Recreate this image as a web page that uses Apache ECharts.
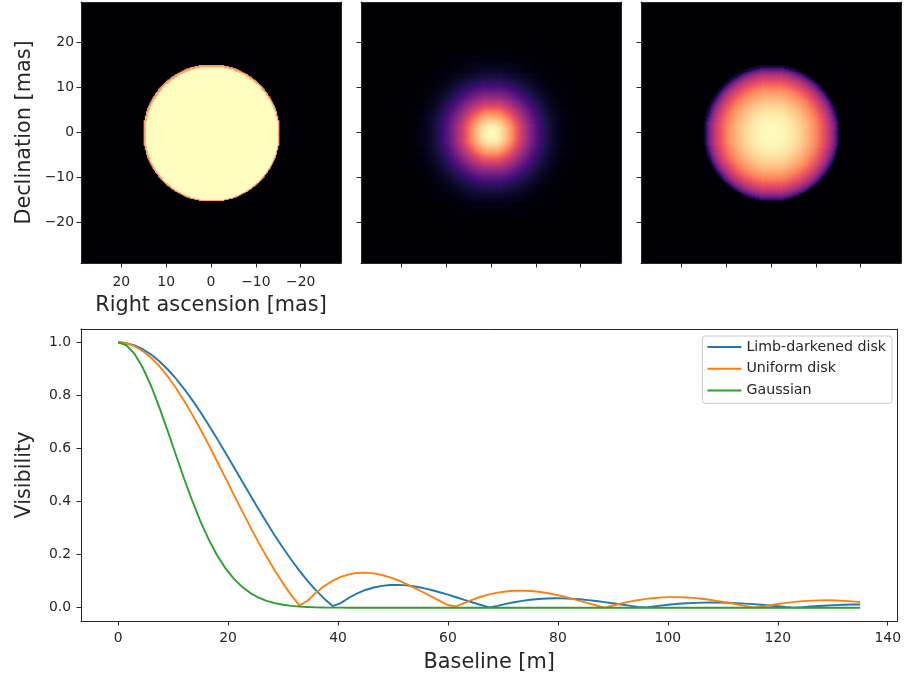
<!DOCTYPE html>
<html>
<head>
<meta charset="utf-8">
<script src="https://cdn.jsdelivr.net/npm/echarts@6/dist/echarts.min.js"></script>
<style>
  html, body { margin: 0; padding: 0; background: #ffffff; }
  #chart { width: 904px; height: 677px; }
</style>
</head>
<body>
<div id="chart"></div>
<script>
// ---- Visibility curves -------------------------------------------------
// Baseline (m) of each sample
const baseline = [
  0, 1.5, 3, 4.5, 6, 7.5, 9, 10.5, 12, 13.5, 15, 16.5, 18, 19.5, 21, 22.5, 24, 25.5, 27, 28.5,
  30, 31.5, 33, 34.5, 36, 37.5, 39, 40.5, 42, 43.5, 45, 46.5, 48, 49.5, 51, 52.5, 54, 55.5, 57, 58.5,
  60, 61.5, 63, 64.5, 66, 67.5, 69, 70.5, 72, 73.5, 75, 76.5, 78, 79.5, 81, 82.5, 84, 85.5, 87, 88.5,
  90, 91.5, 93, 94.5, 96, 97.5, 99, 100.5, 102, 103.5, 105, 106.5, 108, 109.5, 111, 112.5, 114, 115.5, 117, 118.5,
  120, 121.5, 123, 124.5, 126, 127.5, 129, 130.5, 132, 133.5, 135
];

const visLimbDarkened = [
  1.0000, 0.9971, 0.9883, 0.9739, 0.9539, 0.9287, 0.8984, 0.8636, 0.8247, 0.7820,
  0.7361, 0.6876, 0.6370, 0.5849, 0.5319, 0.4785, 0.4253, 0.3729, 0.3218, 0.2724,
  0.2252, 0.1806, 0.1389, 0.1005, 0.0655, 0.0341, 0.0064, 0.0175, 0.0376, 0.0540,
  0.0668, 0.0762, 0.0824, 0.0856, 0.0860, 0.0841, 0.0800, 0.0741, 0.0668, 0.0584,
  0.0492, 0.0394, 0.0295, 0.0197, 0.0102, 0.0012, 0.0071, 0.0144, 0.0208, 0.0260,
  0.0302, 0.0331, 0.0349, 0.0356, 0.0352, 0.0339, 0.0317, 0.0288, 0.0252, 0.0212,
  0.0168, 0.0123, 0.0077, 0.0031, 0.0012, 0.0053, 0.0089, 0.0121, 0.0148, 0.0169,
  0.0184, 0.0193, 0.0196, 0.0193, 0.0185, 0.0172, 0.0155, 0.0134, 0.0110, 0.0085,
  0.0058, 0.0031, 0.0005, 0.0021, 0.0044, 0.0066, 0.0084, 0.0099, 0.0111, 0.0119,
  0.0123
];

const visUniform = [
  1.0000, 0.9963, 0.9852, 0.9669, 0.9417, 0.9099, 0.8719, 0.8285, 0.7801, 0.7275,
  0.6714, 0.6126, 0.5519, 0.4901, 0.4281, 0.3666, 0.3064, 0.2481, 0.1926, 0.1403,
  0.0918, 0.0475, 0.0077, 0.0270, 0.0568, 0.0816, 0.1013, 0.1159, 0.1258, 0.1311,
  0.1322, 0.1296, 0.1233, 0.1142, 0.1026, 0.0892, 0.0742, 0.0584, 0.0421, 0.0259,
  0.0101, 0.0048, 0.0185, 0.0308, 0.0413, 0.0501, 0.0567, 0.0613, 0.0639, 0.0645,
  0.0632, 0.0601, 0.0555, 0.0495, 0.0424, 0.0345, 0.0261, 0.0173, 0.0084, 0.0002,
  0.0084, 0.0161, 0.0228, 0.0284, 0.0332, 0.0366, 0.0389, 0.0399, 0.0398, 0.0385,
  0.0361, 0.0328, 0.0286, 0.0238, 0.0186, 0.0129, 0.0071, 0.0014, 0.0042, 0.0095,
  0.0142, 0.0184, 0.0219, 0.0247, 0.0266, 0.0277, 0.0279, 0.0273, 0.0259, 0.0239,
  0.0212
];

const visGaussian = [
  1.0000, 0.9888, 0.9560, 0.9037, 0.8353, 0.7548, 0.6670, 0.5762, 0.4868, 0.4020,
  0.3247, 0.2564, 0.1979, 0.1494, 0.1103, 0.0796, 0.0561, 0.0387, 0.0261, 0.0172,
  0.0111, 0.0070, 0.0043, 0.0026, 0.0015, 0.0009, 0.0005, 0.0003, 0.0001, 0,
  0, 0, 0, 0, 0, 0, 0, 0, 0, 0,
  0, 0, 0, 0, 0, 0, 0, 0, 0, 0,
  0, 0, 0, 0, 0, 0, 0, 0, 0, 0,
  0, 0, 0, 0, 0, 0, 0, 0, 0, 0,
  0, 0, 0, 0, 0, 0, 0, 0, 0, 0,
  0, 0, 0, 0, 0, 0, 0, 0, 0, 0,
  0
];

const seriesNames = ['Limb-darkened disk', 'Uniform disk', 'Gaussian'];
const seriesColors = ['#1f77b4', '#ff7f0e', '#2ca02c'];

// ---- Sky images ---------------------------------------------------------
// Normalised radial brightness, one entry every 0.25 mas from the centre;
// beyond the last entry the sky is dark (0).
const profileStep = 0.25;

const uniformProfile = [
  1, 1, 1, 1, 1, 1, 1, 1, 1, 1, 1, 1, 1, 1, 1, 1, 1, 1, 1, 1,
  1, 1, 1, 1, 1, 1, 1, 1, 1, 1, 1, 1, 1, 1, 1, 1, 1, 1, 1, 1,
  1, 1, 1, 1, 1, 1, 1, 1, 1, 1, 1, 1, 1, 1, 1, 1, 1, 1, 1, 1,
  0.8
];

const gaussianProfile = [
  1.0000, 0.9992, 0.9968, 0.9927, 0.9871, 0.9799, 0.9712, 0.9609, 0.9493, 0.9363,
  0.9219, 0.9063, 0.8895, 0.8716, 0.8527, 0.8328, 0.8121, 0.7906, 0.7684, 0.7457,
  0.7224, 0.6987, 0.6747, 0.6505, 0.6261, 0.6016, 0.5772, 0.5529, 0.5287, 0.5047,
  0.4811, 0.4578, 0.4350, 0.4126, 0.3907, 0.3694, 0.3487, 0.3286, 0.3092, 0.2904,
  0.2723, 0.2550, 0.2383, 0.2224, 0.2072, 0.1928, 0.1790, 0.1660, 0.1537, 0.1420,
  0.1310, 0.1207, 0.1110, 0.1019, 0.0934, 0.0855, 0.0781, 0.0713, 0.0649, 0.0590,
  0.0536, 0.0486, 0.0439, 0.0397, 0.0358, 0.0322, 0.0290, 0.0260, 0.0233, 0.0209,
  0.0186, 0.0166, 0.0148, 0.0131, 0.0117, 0.0103, 0.0091, 0.0081, 0.0071, 0.0063,
  0.0055, 0.0048, 0.0042, 0.0037, 0.0032
];

const limbDarkenedProfile = [
  1.0000, 0.9999, 0.9994, 0.9987, 0.9978, 0.9965, 0.9950, 0.9932, 0.9911, 0.9887,
  0.9860, 0.9831, 0.9798, 0.9762, 0.9724, 0.9682, 0.9638, 0.9590, 0.9539, 0.9485,
  0.9428, 0.9367, 0.9303, 0.9236, 0.9165, 0.9091, 0.9012, 0.8930, 0.8844, 0.8754,
  0.8660, 0.8562, 0.8459, 0.8352, 0.8239, 0.8122, 0.8000, 0.7872, 0.7739, 0.7599,
  0.7454, 0.7301, 0.7141, 0.6974, 0.6799, 0.6614, 0.6420, 0.6216, 0.6000, 0.5771,
  0.5528, 0.5268, 0.4989, 0.4687, 0.4359, 0.3997, 0.3590, 0.3122, 0.2560, 0.1818,
  0.08
];

// Tick positions
const skyTicks = [20, 10, 0, -10, -20];
const baselineTicks = [0, 20, 40, 60, 80, 100, 120, 140];
const visibilityTicks = [0, 0.2, 0.4, 0.6, 0.8, 1.0];

// magma colormap
const magma = [
  '#000004', '#07061c', '#140e36', '#251255', '#3b0f70', '#51127c', '#641a80',
  '#782281', '#8c2981', '#a1307e', '#b73779', '#cb3e71', '#de4968', '#ec5860',
  '#f7705c', '#fc8961', '#fe9f6d', '#feb77e', '#fecf92', '#fde7a9', '#fcfdbf'
];

const pixelSize = 0.25;    // mas per image cell
const fieldHalf = 29;      // half field of view, mas

// Lit cells of an image; dark sky is the panel's magma(0) backdrop
function buildImage(profile) {
  const cells = [];
  const n = Math.round(2 * fieldHalf / pixelSize);
  for (let j = 0; j < n; j++) {
    const y = -fieldHalf + (j + 0.5) * pixelSize;
    for (let i = 0; i < n; i++) {
      const x = -fieldHalf + (i + 0.5) * pixelSize;
      const k = Math.round(Math.hypot(x, y) / profileStep);
      if (k < profile.length) cells.push([x, y, profile[k]]);
    }
  }
  return cells;
}

function renderCell(params, api) {
  const x = api.value(0), y = api.value(1);
  const h = pixelSize / 2;
  const a = api.coord([x - h, y + h]);
  const b = api.coord([x + h, y - h]);
  return {
    type: 'rect',
    shape: {
      x: Math.min(a[0], b[0]),
      y: Math.min(a[1], b[1]),
      width: Math.abs(b[0] - a[0]) + 1,
      height: Math.abs(b[1] - a[1]) + 1
    },
    style: { fill: api.visual('color') }
  };
}

const FONT = 'DejaVu Sans';
const TEXT = '#262626';
const LINE = '#262626';
const TICK_FONT = 13.9;
const LEGEND_FONT = 14.2;
const NAME_FONT = 20.8;

const minusFmt = v => (v < 0 ? '\u2212' + Math.abs(v) : String(v));

function panelGrid(left, top, width, height, bg) {
  return { left, top, width, height, show: true, backgroundColor: bg, borderWidth: 0 };
}

// Main axis of a panel: ticks, labels and the bottom / left spine
function mainAxis(opts) {
  const ax = {
    type: 'value', gridIndex: opts.grid, min: opts.min, max: opts.max,
    inverse: !!opts.inverse, z: 10,
    axisLine: { show: true, onZero: false, lineStyle: { color: LINE, width: 1 } },
    splitLine: { show: false },
    axisTick: { show: true, inside: false, length: 4.5, customValues: opts.ticks,
                lineStyle: { color: LINE, width: 1 } },
    axisLabel: { show: opts.labels, customValues: opts.ticks, formatter: opts.fmt,
                 margin: opts.margin,
                 fontFamily: FONT, fontSize: TICK_FONT, color: TEXT }
  };
  if (opts.name) {
    ax.name = opts.name;
    ax.nameLocation = 'middle';
    ax.nameGap = opts.nameGap;
    ax.nameTextStyle = { fontFamily: FONT, fontSize: NAME_FONT, color: TEXT };
  }
  return ax;
}

// Opposite spine (top / right) of a panel
function spineAxis(grid, min, max, position) {
  return {
    type: 'value', gridIndex: grid, min, max, position, z: 10,
    axisLine: { show: true, onZero: false, lineStyle: { color: LINE, width: 1 } },
    axisTick: { show: false }, axisLabel: { show: false }, splitLine: { show: false }
  };
}

const xAxes = [];
const yAxes = [];
for (let k = 0; k < 3; k++) {
  const first = k === 0;
  xAxes.push(mainAxis({ grid: k, min: -fieldHalf, max: fieldHalf, inverse: true, ticks: skyTicks,
    labels: first, fmt: minusFmt, margin: 12,
    name: first ? 'Right ascension [mas]' : null, nameGap: 32 }));
  xAxes.push(spineAxis(k, -fieldHalf, fieldHalf, 'top'));
  yAxes.push(mainAxis({ grid: k, min: -fieldHalf, max: fieldHalf, ticks: skyTicks,
    labels: first, fmt: minusFmt, margin: 7,
    name: first ? 'Declination [mas]' : null, nameGap: 46 }));
  yAxes.push(spineAxis(k, -fieldHalf, fieldHalf, 'right'));
}
xAxes.push(mainAxis({ grid: 3, min: -6.75, max: 141.75, ticks: baselineTicks,
  labels: true, fmt: v => String(v), margin: 10, name: 'Baseline [m]', nameGap: 31 }));
xAxes.push(spineAxis(3, -6.75, 141.75, 'top'));
yAxes.push(mainAxis({ grid: 3, min: -0.05, max: 1.05, ticks: visibilityTicks,
  labels: true, fmt: v => v.toFixed(1), margin: 10, name: 'Visibility', nameGap: 46 }));
yAxes.push(spineAxis(3, -0.05, 1.05, 'right'));

const imageSeries = [uniformProfile, gaussianProfile, limbDarkenedProfile].map((p, k) => ({
  type: 'custom',
  xAxisIndex: 2 * k, yAxisIndex: 2 * k,
  renderItem: renderCell,
  data: buildImage(p),
  progressive: 0,
  progressiveThreshold: 1e9,
  clip: true,
  silent: true,
  animation: false
}));

const lineSeries = [visLimbDarkened, visUniform, visGaussian].map((vals, k) => ({
  type: 'line',
  name: seriesNames[k],
  xAxisIndex: 6, yAxisIndex: 6,
  data: baseline.map((b, i) => [b, vals[i]]),
  symbol: 'none',
  color: seriesColors[k],
  lineStyle: { width: 1.9, color: seriesColors[k] },
  emphasis: { disabled: true },
  z: 3 + k
}));

const chart = echarts.init(document.getElementById('chart'), null, { renderer: 'canvas' });
chart.setOption({
  animation: false,
  backgroundColor: '#ffffff',
  grid: [
    panelGrid(81, 2, 260, 261, '#000004'),
    panelGrid(361, 2, 260, 261, '#000004'),
    panelGrid(641, 2, 260, 261, '#000004'),
    panelGrid(81, 329, 818, 292, 'transparent')
  ],
  xAxis: xAxes,
  yAxis: yAxes,
  visualMap: {
    show: false, type: 'continuous', min: 0, max: 1, dimension: 2,
    seriesIndex: [0, 1, 2],
    inRange: { color: magma }
  },
  legend: {
    data: seriesNames,
    orient: 'vertical', right: 12, top: 336,
    icon: 'rect', itemWidth: 34, itemHeight: 2, itemGap: 7.7,
    padding: [4, 6, 6, 5],
    selectedMode: false,
    backgroundColor: 'rgba(255,255,255,0.8)',
    borderColor: '#cccccc', borderWidth: 1, borderRadius: 3,
    textStyle: { fontFamily: FONT, fontSize: LEGEND_FONT, color: TEXT, lineHeight: 14 }
  },
  series: imageSeries.concat(lineSeries)
});
</script>
</body>
</html>
